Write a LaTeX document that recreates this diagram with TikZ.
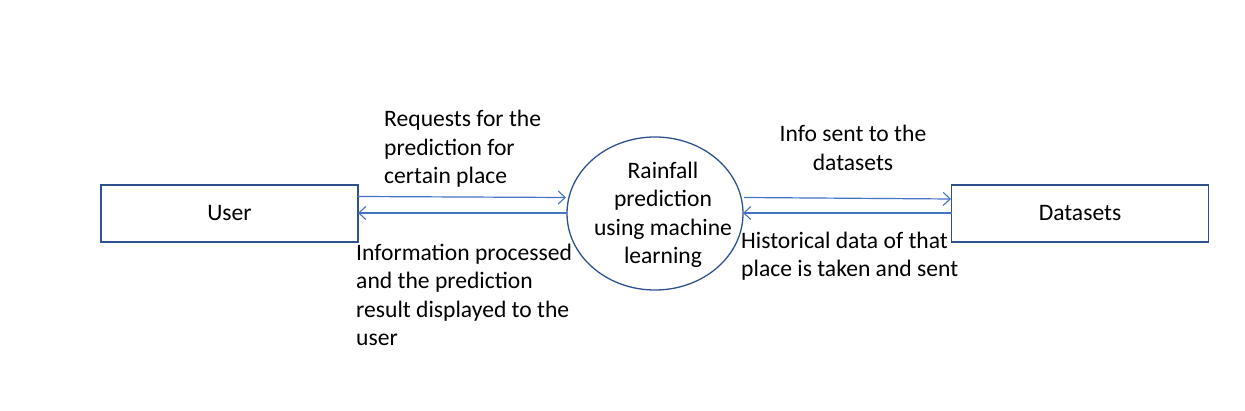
\documentclass[tikz,border=0pt]{standalone}
\usepackage{fontspec}
\setmainfont{Carlito}
\usetikzlibrary{arrows.meta,shapes.geometric}
\definecolor{boxblue}{HTML}{2F528F}
\definecolor{arrblue}{HTML}{4472C4}
\begin{document}
\begin{tikzpicture}[x=1pt,y=-1pt,
  every node/.style={font=\fontsize{23.6}{28.5}\selectfont},
  entity/.style={draw=boxblue,line width=1.3pt,minimum width=257pt,minimum height=57pt,inner sep=0pt,text height=14pt,text depth=0pt},
  proc/.style={draw=boxblue,line width=1.3pt,ellipse,minimum width=176pt,minimum height=153pt,inner sep=0pt},
  lbl/.style={inner sep=0pt},
  flow/.style={draw=arrblue,line width=1.2pt,-{Straight Barb[length=7pt,width=13pt,line width=1.1pt]}}]
\useasboundingbox (0,0) rectangle (1245,411);
\node[entity] (user) at (229.5,213.5) {User};
\node[entity] (data) at (1080,213.5) {Datasets};
\node[proc] (proc) at (655,213.5) {};
\node[lbl,align=center] (proctext) at (663,215) {Rainfall\\prediction\\using machine\\learning};
\coordinate (u1) at (358,196.5);
\coordinate (p1) at (566,197.5);
\coordinate (p2) at (567,213);
\coordinate (u2) at (358,213);
\coordinate (p3) at (744,197.5);
\coordinate (d1) at (951,199);
\coordinate (d2) at (952,213);
\coordinate (p4) at (743,213);
\draw[flow] (u1) -- (p1);
\draw[flow] (p2) -- (u2);
\draw[flow] (p3) -- (d1);
\draw[flow] (d2) -- (p4);
\node[lbl,align=left,anchor=west] (req) at (384,149) {Requests for the\\prediction for\\certain place};
\node[lbl,align=left,anchor=west] (inf) at (356,295) {Information processed\\and the prediction\\result displayed to the\\user};
\node[lbl,align=center] (sent) at (853,148) {Info sent to the\\datasets};
\node[lbl,align=left,anchor=west] (hist) at (741,256) {Historical data of that\\place is taken and sent};
\end{tikzpicture}
\end{document}
